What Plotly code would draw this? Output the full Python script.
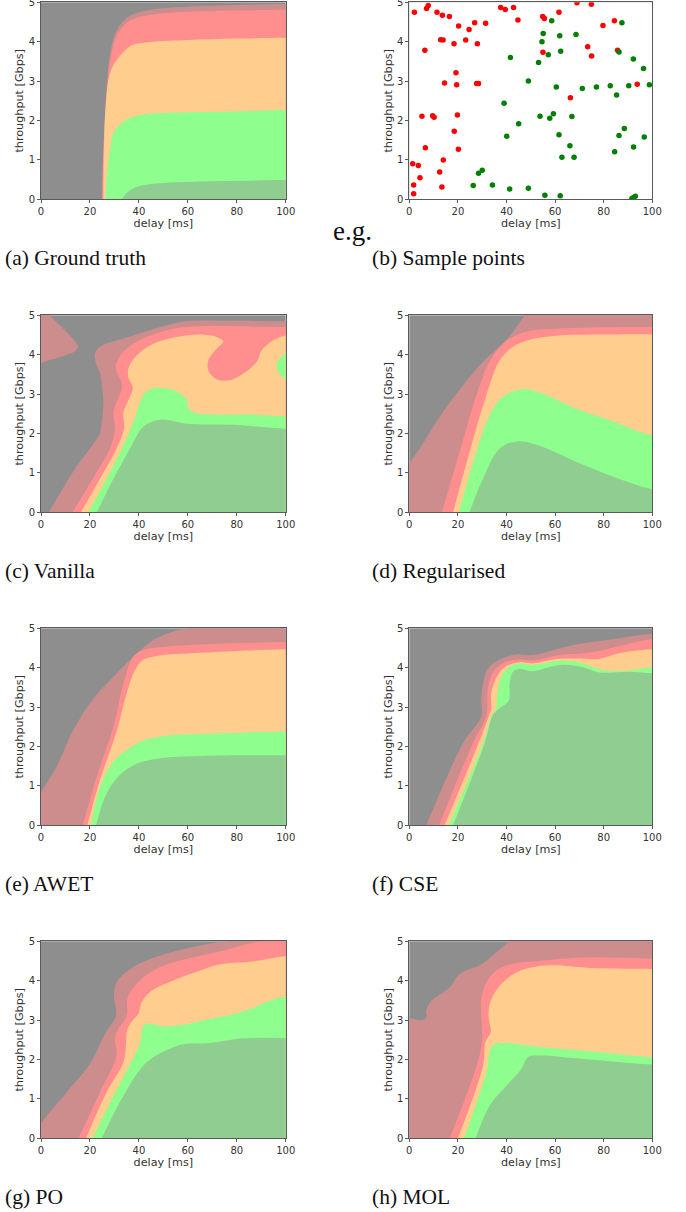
import plotly.graph_objects as go

W, H = 686, 1212

# band colours, painted back to front over the grey background
GREY = "#8e8e8e"
ROSE = "#cd8d8d"
RED = "#ff8e8e"
ORANGE = "#ffcd8d"
LGREEN = "#8eff8e"
DGREEN = "#90cd90"

DELAY_TICKS = [0, 20, 40, 60, 80, 100]
TPUT_TICKS = [0, 1, 2, 3, 4, 5]

# (a) Ground truth
A_ROSE = [(25,0),(25.3,1),(26,2),(27,3),(28.5,3.8),(31,4.3),(35,4.6),(40,4.75),(50,4.85),(60,4.89),(80,4.93),(100,4.96)]
A_RED = [(25,0),(25.4,1),(26.1,2),(27.3,3),(28.8,3.7),(31.3,4.2),(35.5,4.5),(40,4.62),(50,4.72),(60,4.76),(80,4.79),(100,4.81)]
A_ORANGE = [(25.5,0),(25.7,1.25),(26.6,2.5),(28.2,3.2),(31,3.54),(34,3.76),(37.7,3.92),(45,3.99),(60,4.04),(80,4.08),(100,4.1)]
A_LGREEN = [(26.3,0),(26.9,.6),(28.2,1.25),(29.6,1.68),(33.6,1.97),(40.5,2.14),(60,2.21),(80,2.23),(100,2.27)]
A_DGREEN = [(33,0),(35.7,.2),(40.5,.34),(51.4,.42),(60,.44),(80,.47),(100,.49)]

# (b) Sample points
RED_X = [2.1,7.1,7.8,11.4,13.6,16.5,20.3,24.6,26.9,31.4,37.6,39.5,42.9,44.7,54.9,55.6,61.6,69,74.9,79.7,84.4,6.4,12.9,13.9,18.4,23.2,28,55,73.4,75,85.7,19.2,14.5,19.5,27.7,28.5,93.8,66.3,5.2,9.6,10.2,19.8,18.5,6.6,20.2,1.4,3.7,14,4.4,12.5,1.8,1.8,13.4]
RED_Y = [4.75,4.84,4.92,4.75,4.67,4.64,4.40,4.31,4.48,4.47,4.87,4.82,4.87,4.55,4.64,4.59,4.75,4.99,4.95,4.41,4.53,3.78,4.05,4.04,3.95,4.04,3.95,3.73,3.87,3.64,3.78,3.21,2.95,2.91,2.94,2.94,2.92,2.58,2.11,2.12,2.08,2.14,1.73,1.31,1.27,.90,.86,1.0,.55,.69,.36,.14,.31]
GREEN_X = [58.6,87.5,55.1,61.9,68.6,54.6,62.3,57.2,86.3,41.6,53.2,92.2,96.4,49,60.5,71.2,77,82.7,90.3,98.8,85.3,39,53.8,59.3,57.8,66.9,45,40.1,88.5,86.3,61.6,96.7,66.1,92.3,84.5,62.8,67.8,30,28.5,26.3,34.2,41.3,49,55.8,62.1,93,92.2,91.6]
GREEN_Y = [4.53,4.48,4.21,4.15,4.18,4.0,3.76,3.67,3.74,3.60,3.47,3.56,3.32,3.0,2.85,2.81,2.85,2.88,2.88,2.91,2.65,2.44,2.11,2.17,2.06,2.10,1.92,1.60,1.80,1.62,1.64,1.58,1.36,1.33,1.21,1.07,1.07,.74,.66,.35,.36,.26,.28,.10,.09,.08,.04,.02]

# (c) Vanilla
C_ROSE_ISLAND = [(-6,3.6),(0,3.79),(7.8,3.94),(13.9,4.09),(15.1,4.2),(13.5,4.37),(9.1,4.66),(3.7,5.0),(-1,5.5),(-6,5.5)]
C_ROSE = [(3.3,0),(10.5,.77),(15.9,1.28),(21.4,1.74),(24.1,2.0),(24.8,2.29),(25.5,2.76),(24.9,3.22),(24.1,3.52),(22.3,3.82),(22.1,4.03),(24.1,4.2),(37.7,4.49),(51.4,4.75),(59.5,4.85),(78.6,4.86),(100,4.85)]
C_RED = [(12.9,0),(22.8,1.02),(28.2,1.62),(30.2,2.12),(29.6,2.55),(30.9,2.8),(33,3.14),(32.6,3.35),(30.9,3.56),(30.7,3.77),(33,4.03),(37.7,4.28),(44.6,4.49),(54.1,4.66),(65,4.72),(100,4.7)]
C_ORANGE = [(16.3,0),(24.1,.85),(30.9,1.62),(33.9,2.12),(33.7,2.55),(35.7,2.84),(37.5,3.16),(35.7,3.43),(35.7,3.65),(39.1,3.98),(45.9,4.28),(55.4,4.45),(65,4.51),(71.8,4.45),(74.5,4.34),(71.8,4.15),(68.4,3.86),(68.4,3.6),(71.8,3.38),(77.2,3.35),(82.7,3.52),(88.2,3.82),(90.2,4.11),(95,4.37),(100,4.49)]
C_LGREEN = [(19.3,0),(26.8,.85),(33.7,1.7),(37.7,2.29),(41.8,2.97),(44.6,3.12),(48.7,3.16),(54.1,3.1),(59.5,2.88),(60,2.67),(62.3,2.53),(71.8,2.48),(85.4,2.48),(100,2.44)]
C_LGREEN_ISLAND = [(106,4.5),(100,4.07),(96.3,3.77),(97,3.56),(100,3.35),(106,3.0)]
C_DGREEN = [(22.8,0),(29.6,.85),(36.4,1.62),(41.8,2.17),(48.7,2.35),(59.5,2.25),(78.6,2.22),(100,2.12)]

# (d) Regularised
D_ROSE = [(-8,.6),(0,1.25),(4.3,1.62),(13.9,2.55),(22.1,3.22),(30.3,3.82),(39.9,4.37),(47.7,5),(55,5.5),(100,5.5)]
D_RED = [(13.4,0),(20.7,1.53),(27.6,2.97),(33,3.82),(38.5,4.28),(44,4.49),(50.9,4.62),(60.5,4.66),(75.6,4.69),(100,4.7)]
D_ORANGE = [(18,0),(24.8,1.53),(31.7,2.97),(37.2,3.86),(42.7,4.2),(49.5,4.38),(60.5,4.48),(75.6,4.51),(100,4.52)]
D_LGREEN = [(20.4,0),(27.6,1.53),(33,2.46),(38.5,2.93),(46.8,3.13),(55,3.01),(68.7,2.63),(82.4,2.34),(100,1.95)]
D_DGREEN = [(24.8,0),(30.3,.85),(37.2,1.62),(44.7,1.8),(55,1.66),(68.7,1.28),(82.4,.94),(100,.59)]

# (e) AWET
E_ROSE = [(-8,.2),(0,.85),(6.4,1.49),(13.2,2.42),(21.4,3.22),(29.6,3.77),(37.7,4.28),(45.9,4.7),(54.1,4.92),(60,5.0),(70,5.05),(100,5.1)]
E_RED = [(17,0),(22.8,1.24),(29.6,2.5),(33.7,3.6),(37.7,4.28),(41.8,4.45),(48.6,4.52),(65,4.59),(100,4.65)]
E_ORANGE = [(18.9,0),(24.1,1.15),(30.9,2.38),(35,3.35),(38.4,3.94),(41.8,4.2),(47.3,4.3),(65,4.38),(100,4.47)]
E_LGREEN = [(20.4,0),(24.1,.98),(29.6,1.62),(35,1.91),(41.8,2.15),(51.4,2.28),(65,2.32),(100,2.38)]
E_DGREEN = [(22.5,0),(26.8,.81),(32.3,1.28),(39.1,1.56),(48.6,1.7),(65,1.76),(100,1.78)]

# (f) CSE
F_ROSE = [(7,0),(22.1,2.08),(29.6,2.76),(29.6,3.18),(30.3,3.6),(33,4.03),(38.5,4.24),(44.7,4.34),(50.9,4.32),(60.5,4.47),(71.5,4.62),(86.6,4.75),(100,4.86)]
F_RED = [(12.2,0),(26.2,2.08),(31.7,2.76),(32.1,3.01),(32.4,3.52),(35.1,3.94),(39.9,4.15),(45.4,4.21),(50.9,4.18),(61.9,4.32),(72.9,4.37),(82.4,4.49),(100,4.73)]
F_ORANGE = [(14.5,0),(27.6,1.95),(33.1,2.84),(33.7,2.97),(33.7,3.35),(36.5,3.82),(39.9,4.04),(45.4,4.14),(50.9,4.11),(60.5,4.22),(71.5,4.23),(78.3,4.22),(86.6,4.37),(100,4.47)]
F_LGREEN = [(16.2,0),(30.3,2.08),(33.7,2.76),(35.8,2.97),(36.1,3.27),(37.9,3.77),(41.3,4.03),(45.4,4.11),(50.9,4.07),(61.9,4.18),(70.1,4.13),(77,3.98),(82.4,3.92),(90.7,3.93),(100,4.01)]
F_DGREEN = [(18,0),(31,2.08),(34.4,2.8),(37.2,2.97),(40.9,3.16),(41.3,3.6),(42.7,3.9),(45.4,3.97),(50.2,3.91),(61.9,4.07),(70.1,4.03),(78.3,3.88),(90.7,3.9),(100,3.86)]

# (g) PO
G_ROSE = [(-8,-.3),(0,.39),(10.5,1.17),(20,1.89),(26.8,2.73),(30.7,3.11),(29.8,3.62),(30.9,3.96),(36.4,4.3),(44.6,4.55),(55.5,4.76),(70.4,4.96),(78.6,5.02),(100,5.2)]
G_RED = [(15.4,0),(24.1,1.17),(30.9,2.1),(30.2,2.52),(31.2,2.73),(35,3.11),(35.3,3.54),(37.7,3.83),(45.9,4.26),(56.8,4.51),(71.8,4.72),(86.8,4.97),(100,5.1)]
G_ORANGE = [(18.4,0),(26.8,1.17),(33.7,1.93),(34.7,2.35),(35.3,2.77),(37.7,3.01),(39.8,3.16),(41.1,3.45),(44.5,3.71),(55.5,4.04),(65,4.26),(73.2,4.42),(85.4,4.48),(100,4.62)]
G_LGREEN = [(21,0),(29.6,1.08),(36.4,1.89),(40.5,2.44),(41.3,2.77),(42.5,2.9),(45.2,2.91),(50,2.84),(55.5,2.86),(67.7,3.01),(81.3,3.2),(100,3.61)]
G_DGREEN = [(24.8,0),(33.7,1.08),(43.2,1.93),(54.1,2.31),(58.2,2.39),(69.1,2.42),(81.3,2.53),(92.2,2.55),(100,2.54)]

# (h) MOL
H_ROSE = [(-8,3.0),(0,3.05),(4.9,3.0),(7,3.05),(7,3.24),(9.1,3.49),(16.6,3.83),(20.7,4.17),(29.6,4.41),(35.8,4.72),(40.9,4.98),(45,5.2),(100,5.3)]
H_RED = [(16.6,0),(28.9,2.1),(30,2.69),(29.6,3.11),(29.6,3.54),(31.7,3.96),(35.8,4.26),(41.3,4.41),(55,4.51),(71.5,4.59),(100,4.56)]
H_ORANGE = [(20,0),(30.3,1.84),(31.3,2.44),(33.5,2.69),(32.6,3.11),(33.3,3.45),(37.2,3.87),(44,4.21),(52.3,4.36),(60.5,4.39),(72.9,4.33),(100,4.3)]
H_LGREEN = [(22.5,0),(31.7,1.68),(33.7,2.31),(36.5,2.41),(55,2.31),(75.6,2.2),(100,2.06)]
H_DGREEN = [(27.3,0),(33.1,.83),(41.3,1.42),(46.1,1.76),(48.8,2.06),(53.6,2.1),(68.7,2.03),(100,1.87)]

CAPTIONS = ["(a) Ground truth", "(b) Sample points", "(c) Vanilla", "(d) Regularised",
            "(e) AWET", "(f) CSE", "(g) PO", "(h) MOL"]

# each panel: list of (curve, colour, closed-to-bottom-right?)
PANELS = [
    [(A_ROSE, ROSE, True), (A_RED, RED, True), (A_ORANGE, ORANGE, True), (A_LGREEN, LGREEN, True), (A_DGREEN, DGREEN, True)],
    [],
    [(C_ROSE_ISLAND, ROSE, False), (C_ROSE, ROSE, True), (C_RED, RED, True), (C_ORANGE, ORANGE, True),
     (C_LGREEN_ISLAND, LGREEN, False), (C_LGREEN, LGREEN, True), (C_DGREEN, DGREEN, True)],
    [(D_ROSE, ROSE, True), (D_RED, RED, True), (D_ORANGE, ORANGE, True), (D_LGREEN, LGREEN, True), (D_DGREEN, DGREEN, True)],
    [(E_ROSE, ROSE, True), (E_RED, RED, True), (E_ORANGE, ORANGE, True), (E_LGREEN, LGREEN, True), (E_DGREEN, DGREEN, True)],
    [(F_ROSE, ROSE, True), (F_RED, RED, True), (F_ORANGE, ORANGE, True), (F_LGREEN, LGREEN, True), (F_DGREEN, DGREEN, True)],
    [(G_ROSE, ROSE, True), (G_RED, RED, True), (G_ORANGE, ORANGE, True), (G_LGREEN, LGREEN, True), (G_DGREEN, DGREEN, True)],
    [(H_ROSE, ROSE, True), (H_RED, RED, True), (H_ORANGE, ORANGE, True), (H_LGREEN, LGREEN, True), (H_DGREEN, DGREEN, True)],
]

# pixel layout of the page
LEFTS = [(41.0, 285.7), (409.3, 652.3)]
ROWS = [(2.3, 199.3), (315.3, 512.3), (628.3, 825.3), (941.3, 1138.3)]
CAPTION_X = [3, 370]
CAPTION_Y = [258, 571, 884, 1197]

fig = go.Figure()
layout = dict(
    width=W, height=H, autosize=False,
    margin=dict(l=0, r=0, t=0, b=0, autoexpand=False),
    paper_bgcolor="white", plot_bgcolor=GREY, showlegend=False,
    font=dict(family="DejaVu Sans", size=10, color="#333333"),
)
annotations = []
TITLE_FONT = dict(family="DejaVu Sans", size=11.2, color="#333333")

for i, bands in enumerate(PANELS):
    col, row = i % 2, i // 2
    sfx = "" if i == 0 else str(i + 1)
    xa, ya = "x" + sfx, "y" + sfx
    for curve, colour, closed in bands:
        xs = [p[0] for p in curve]
        ys = [p[1] for p in curve]
        if closed:
            xs = xs + [110, 110, xs[0]]
            ys = ys + [ys[-1], -1, -1]
        fig.add_trace(go.Scatter(
            x=xs, y=ys, mode="lines", fill="toself", fillcolor=colour,
            line=dict(width=0, shape="spline", smoothing=1, color=colour, simplify=False),
            hoverinfo="skip", xaxis=xa, yaxis=ya))
    if i == 1:
        fig.add_trace(go.Scatter(x=RED_X, y=RED_Y, mode="markers",
                                 marker=dict(color="#ff0000", size=5.5), xaxis=xa, yaxis=ya))
        fig.add_trace(go.Scatter(x=GREEN_X, y=GREEN_Y, mode="markers",
                                 marker=dict(color="#008000", size=5.5), xaxis=xa, yaxis=ya))
    x0, x1 = LEFTS[col]
    y0, y1 = ROWS[row]
    axis_style = dict(showgrid=False, zeroline=False, showline=True, mirror=True,
                      linecolor="#5a5a5a", linewidth=1, ticks="outside", ticklen=3,
                      tickwidth=1, tickcolor="#5a5a5a", tickangle=0, fixedrange=True,
                      ticklabeloverflow="allow")
    layout["xaxis" + sfx] = dict(
        axis_style, domain=[x0 / W, x1 / W], range=[0, 100], anchor=ya,
        tickvals=DELAY_TICKS, ticktext=[str(v) for v in DELAY_TICKS],
        title=dict(text="delay [ms]", standoff=0, font=TITLE_FONT))
    layout["yaxis" + sfx] = dict(
        axis_style, domain=[1 - y1 / H, 1 - y0 / H], range=[0, 5], anchor=xa,
        tickvals=TPUT_TICKS, ticktext=[str(v) for v in TPUT_TICKS],
        title=dict(text="throughput [Gbps]", standoff=2, font=TITLE_FONT))
    annotations.append(dict(
        text=CAPTIONS[i], xref="paper", yref="paper", x=CAPTION_X[col] / W,
        y=1 - CAPTION_Y[row] / H, xanchor="left", yanchor="middle", showarrow=False,
        font=dict(family="Liberation Serif", size=21.5, color="#111111")))

annotations.append(dict(
    text="e.g.", xref="paper", yref="paper", x=352.5 / W, y=1 - 231 / H,
    xanchor="center", yanchor="middle", showarrow=False,
    font=dict(family="Liberation Serif", size=27, color="#111111")))

# white panel behind the sample points
shapes = [dict(type="rect", xref="x2 domain", yref="y2 domain", x0=0, x1=1, y0=0, y1=1,
               fillcolor="white", line=dict(width=0), layer="below")]

layout["annotations"] = annotations
layout["shapes"] = shapes
fig.update_layout(**layout)
fig.write_html("out.html", config={"displayModeBar": False},
               post_script="document.body.style.margin='0';")
